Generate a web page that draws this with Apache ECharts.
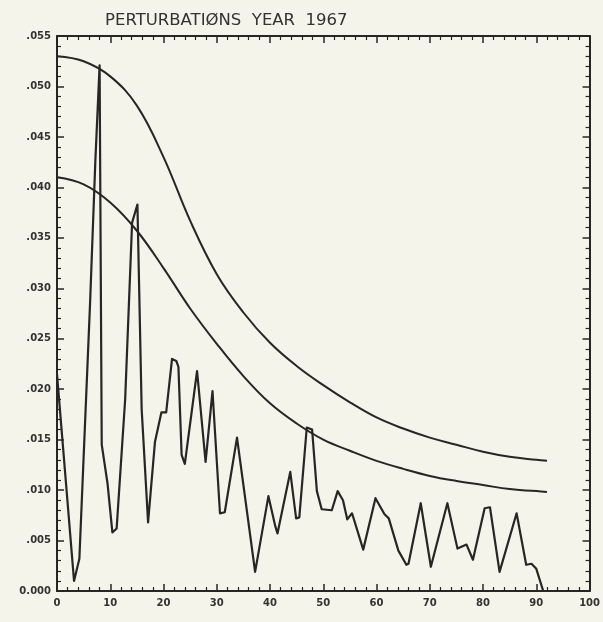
<!DOCTYPE html>
<html>
<head>
<meta charset="utf-8">
<script src="https://cdn.jsdelivr.net/npm/echarts@6/dist/echarts.min.js"></script>
<style>
html,body{margin:0;padding:0;background:#f4f4ea;}
#chart{width:603px;height:622px;}
</style>
</head>
<body>
<div id="chart"></div>
<script>
var titleText = 'PERTURBATIØNS  YEAR  1967';

// jagged perturbation line: x positions and values
var lineX = [0, 3.2, 4.2, 6.2, 7.2, 8.0, 8.4, 9.5, 10.4, 11.2, 12.8, 14.1, 15.1, 15.9, 17.1,
  18.4, 19.6, 20.5, 21.6, 22.4, 22.8, 23.4, 24.0, 26.3, 27.9, 29.2, 30.6, 31.5, 33.8, 37.2,
  39.7, 41.0, 41.4, 43.8, 44.9, 45.5, 46.9, 47.9, 48.8, 49.7, 51.6, 52.7, 53.7, 54.5, 55.4,
  57.5, 59.8, 61.5, 62.3, 64.1, 65.6, 66.0, 68.3, 70.2, 73.3, 75.2, 76.9, 78.1, 80.3, 81.3,
  83.1, 86.3, 88.1, 89.1, 90.0, 91.3];
var lineVals = [0.0215, 0.0010, 0.0032, 0.0284, 0.0426, 0.0521, 0.0145, 0.0106, 0.0058, 0.0062, 0.0190, 0.0365, 0.0383, 0.0180, 0.0068,
  0.0148, 0.0177, 0.0177, 0.0230, 0.0228, 0.0222, 0.0135, 0.0126, 0.0218, 0.0128, 0.0198, 0.0077, 0.0078, 0.0152, 0.0019,
  0.0094, 0.0064, 0.0057, 0.0118, 0.0072, 0.0073, 0.0162, 0.0160, 0.0099, 0.0081, 0.0080, 0.0099, 0.0090, 0.0071, 0.0077,
  0.0041, 0.0092, 0.0076, 0.0072, 0.0040, 0.0026, 0.0027, 0.0087, 0.0024, 0.0087, 0.0042, 0.0046, 0.0031, 0.0082, 0.0083,
  0.0019, 0.0077, 0.0026, 0.0027, 0.0022, 0.0000];

// smooth envelope curves
var curveX = [0, 5, 10, 15, 20, 25, 30, 35, 40, 45, 50, 55, 60, 65, 70, 75, 80, 85, 90, 92];
var upperVals = [0.0530, 0.0525, 0.0510, 0.0481, 0.0430, 0.0367, 0.0314, 0.0276, 0.0246, 0.0223, 0.0204, 0.0187, 0.0172, 0.0161, 0.0152, 0.0145, 0.0138, 0.0133, 0.0130, 0.0129];
var lowerVals = [0.0410, 0.0403, 0.0385, 0.0357, 0.0320, 0.0280, 0.0245, 0.0213, 0.0186, 0.0166, 0.0150, 0.0139, 0.0129, 0.0121, 0.0114, 0.0109, 0.0105, 0.0101, 0.0099, 0.0098];

function pairs(xs, ys) { return xs.map(function (x, i) { return [x, ys[i]]; }); }

var ink = '#262626';
var chart = echarts.init(document.getElementById('chart'), null, {renderer: 'canvas'});

function yFmt(v) {
  if (Math.abs(v) < 1e-9) return '0.000';
  return v.toFixed(3).replace(/^0/, '');
}

var tickStyle = {show: true, inside: true, length: 7, lineStyle: {color: ink, width: 1.5}};
var minorStyle = {show: true, splitNumber: 5, length: 4, lineStyle: {color: ink, width: 1.2}};
var axisLineStyle = {show: true, onZero: false, lineStyle: {color: ink, width: 2}};

chart.setOption({
  animation: false,
  backgroundColor: '#f4f4ea',
  title: {
    text: titleText,
    left: 100, top: 7,
    textStyle: {fontFamily: 'DejaVu Sans', fontWeight: 'normal', fontSize: 16.5, color: '#333'}
  },
  grid: {left: 57, right: 13, top: 36, bottom: 31},
  xAxis: [{
    type: 'value', min: 0, max: 100, interval: 10, position: 'bottom',
    axisLine: axisLineStyle, axisTick: tickStyle, minorTick: minorStyle,
    splitLine: {show: false},
    axisLabel: {margin: 7, fontFamily: 'DejaVu Sans', fontWeight: 'bold', fontSize: 10, color: '#333'}
  }, {
    type: 'value', min: 0, max: 100, interval: 10, position: 'top',
    axisLine: axisLineStyle, axisTick: tickStyle, minorTick: minorStyle,
    splitLine: {show: false}, axisLabel: {show: false}
  }],
  yAxis: [{
    type: 'value', min: 0, max: 0.055, interval: 0.005, position: 'left',
    axisLine: axisLineStyle, axisTick: tickStyle, minorTick: minorStyle,
    splitLine: {show: false},
    axisLabel: {margin: 6, formatter: yFmt, fontFamily: 'DejaVu Sans', fontWeight: 'bold', fontSize: 10, color: '#333'}
  }, {
    type: 'value', min: 0, max: 0.055, interval: 0.005, position: 'right',
    axisLine: axisLineStyle, axisTick: tickStyle, minorTick: minorStyle,
    splitLine: {show: false}, axisLabel: {show: false}
  }],
  series: [{
    type: 'line', data: pairs(curveX, upperVals), smooth: 0.4, symbol: 'none',
    lineStyle: {color: ink, width: 2}
  }, {
    type: 'line', data: pairs(curveX, lowerVals), smooth: 0.4, symbol: 'none',
    lineStyle: {color: ink, width: 2}
  }, {
    type: 'line', data: pairs(lineX, lineVals), smooth: false, symbol: 'none',
    lineStyle: {color: ink, width: 2.2, join: 'round'}
  }]
});
</script>
</body>
</html>
